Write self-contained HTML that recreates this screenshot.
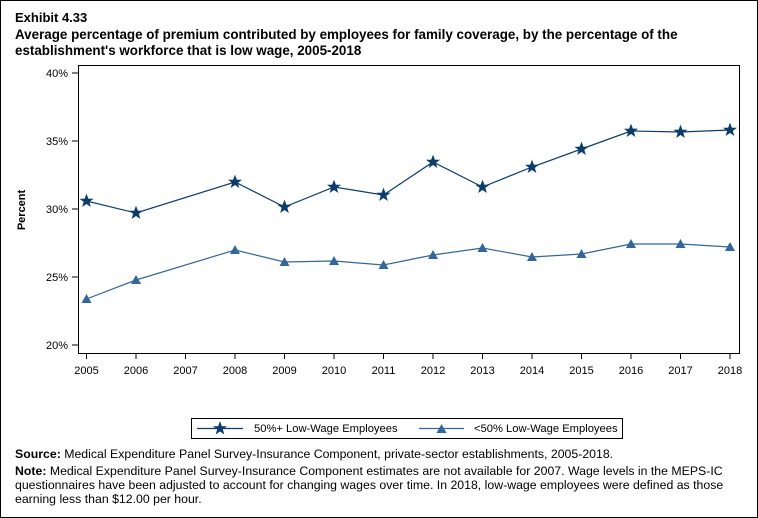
<!DOCTYPE html>
<html><head><meta charset="utf-8"><style>
body{margin:0;background:#fff}
svg{display:block;font-family:"Liberation Sans",Arial,sans-serif}
</style></head><body>
<svg width="758" height="518" viewBox="0 0 758 518">
<defs>
<polygon id="st" points="0,-6.5 1.6,-2.1 6.2,-2 2.5,0.8 3.8,5.3 0,2.6 -3.8,5.3 -2.5,0.8 -6.2,-2 -1.6,-2.1" fill="#0c3c6a" stroke="#0c3c6a" stroke-width="0.6"/>
<polygon id="tr" points="0,-5 5,4 -5,4" fill="#336699"/>
</defs>
<rect x="0.5" y="0.5" width="757" height="517" fill="#fff" stroke="#000"/>
<text x="15" y="22" font-size="13" font-weight="bold">Exhibit 4.33</text>
<text x="15" y="39" font-size="13.4" font-weight="bold">Average percentage of premium contributed by employees for family coverage, by the percentage of the</text>
<text x="15" y="55" font-size="13.4" font-weight="bold">establishment's workforce that is low wage, 2005-2018</text>
<rect x="78.5" y="65.5" width="661" height="288" fill="none" stroke="#000"/>
<g stroke="#000">
<line x1="72" y1="73" x2="78" y2="73"/><line x1="72" y1="141" x2="78" y2="141"/><line x1="72" y1="209" x2="78" y2="209"/><line x1="72" y1="277" x2="78" y2="277"/><line x1="72" y1="345" x2="78" y2="345"/>
</g>
<g font-size="11" text-anchor="end">
<text x="68" y="77">40%</text><text x="68" y="145">35%</text><text x="68" y="213">30%</text><text x="68" y="281">25%</text><text x="68" y="349">20%</text>
</g>
<text transform="translate(25,210) rotate(-90)" font-size="11" font-weight="bold" text-anchor="middle">Percent</text>
<g stroke="#000">
<line x1="86.5" y1="354" x2="86.5" y2="359"/><line x1="136" y1="354" x2="136" y2="359"/><line x1="185.5" y1="354" x2="185.5" y2="359"/><line x1="235" y1="354" x2="235" y2="359"/><line x1="284.5" y1="354" x2="284.5" y2="359"/><line x1="334" y1="354" x2="334" y2="359"/><line x1="383.5" y1="354" x2="383.5" y2="359"/><line x1="433" y1="354" x2="433" y2="359"/><line x1="482.5" y1="354" x2="482.5" y2="359"/><line x1="532" y1="354" x2="532" y2="359"/><line x1="581.5" y1="354" x2="581.5" y2="359"/><line x1="631" y1="354" x2="631" y2="359"/><line x1="680.5" y1="354" x2="680.5" y2="359"/><line x1="730" y1="354" x2="730" y2="359"/>
</g>
<g font-size="11" text-anchor="middle">
<text x="86.5" y="374">2005</text><text x="136" y="374">2006</text><text x="185.5" y="374">2007</text><text x="235" y="374">2008</text><text x="284.5" y="374">2009</text><text x="334" y="374">2010</text><text x="383.5" y="374">2011</text><text x="433" y="374">2012</text><text x="482.5" y="374">2013</text><text x="532" y="374">2014</text><text x="581.5" y="374">2015</text><text x="631" y="374">2016</text><text x="680.5" y="374">2017</text><text x="730" y="374">2018</text>
</g>
<polyline fill="none" stroke="#0c3c6a" stroke-width="1.2" points="86.5,201 136,213 235,182 284.5,207 334,187 383.5,195 433,162 482.5,187 532,167 581.5,149 631,131 680.5,132 730,130"/>
<polyline fill="none" stroke="#336699" stroke-width="1.2" points="86.5,299 136,280 235,250 284.5,262 334,261 383.5,265 433,255 482.5,248 532,257 581.5,254 631,244 680.5,244 730,247"/>
<g>
<use href="#st" x="86.5" y="201"/><use href="#st" x="136" y="213"/><use href="#st" x="235" y="182"/><use href="#st" x="284.5" y="207"/><use href="#st" x="334" y="187"/><use href="#st" x="383.5" y="195"/><use href="#st" x="433" y="162"/><use href="#st" x="482.5" y="187"/><use href="#st" x="532" y="167"/><use href="#st" x="581.5" y="149"/><use href="#st" x="631" y="131"/><use href="#st" x="680.5" y="132"/><use href="#st" x="730" y="130"/>
<use href="#tr" x="86.5" y="299"/><use href="#tr" x="136" y="280"/><use href="#tr" x="235" y="250"/><use href="#tr" x="284.5" y="262"/><use href="#tr" x="334" y="261"/><use href="#tr" x="383.5" y="265"/><use href="#tr" x="433" y="255"/><use href="#tr" x="482.5" y="248"/><use href="#tr" x="532" y="257"/><use href="#tr" x="581.5" y="254"/><use href="#tr" x="631" y="244"/><use href="#tr" x="680.5" y="244"/><use href="#tr" x="730" y="247"/>
</g>
<rect x="191.5" y="418.5" width="431" height="20" fill="none" stroke="#000"/>
<line x1="197" y1="428.5" x2="243" y2="428.5" stroke="#0c3c6a" stroke-width="1.2"/>
<use href="#st" x="220" y="428.5"/>
<text x="254" y="432" font-size="11.2">50%+ Low-Wage Employees</text>
<line x1="419" y1="428.5" x2="464" y2="428.5" stroke="#336699" stroke-width="1.2"/>
<use href="#tr" x="441.5" y="429"/>
<text x="474" y="432" font-size="11.2">&lt;50% Low-Wage Employees</text>
<text x="15" y="458" font-size="12.3"><tspan font-weight="bold">Source:</tspan> Medical Expenditure Panel Survey-Insurance Component, private-sector establishments, 2005-2018.</text>
<text x="15" y="475" font-size="12.3"><tspan font-weight="bold">Note:</tspan> Medical Expenditure Panel Survey-Insurance Component estimates are not available for 2007. Wage levels in the MEPS-IC</text>
<text x="15" y="489" font-size="12.3">questionnaires have been adjusted to account for changing wages over time.  In 2018, low-wage employees were defined as those</text>
<text x="15" y="503" font-size="12.3">earning less than $12.00 per hour.</text>
</svg>
</body></html>
